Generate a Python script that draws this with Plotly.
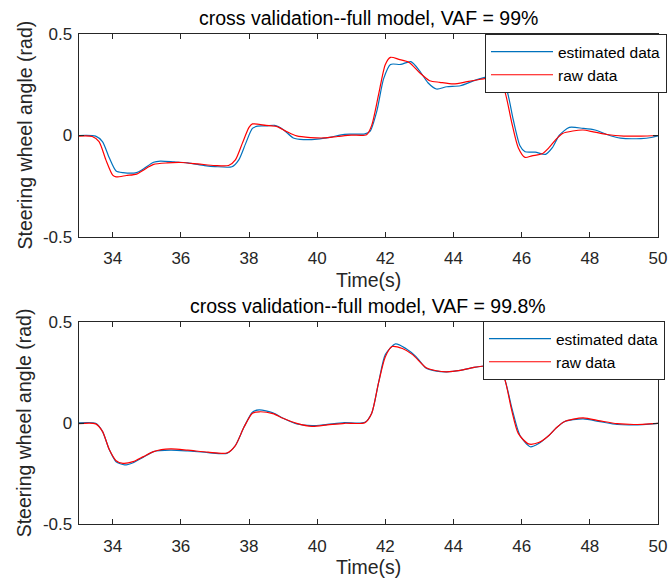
import plotly.graph_objects as go

# ---------------- data ----------------
top_est_t = [33.0, 33.5, 33.7, 33.9, 34.1, 34.3, 34.7, 34.9, 35.2, 35.4, 35.8, 36.2, 36.7, 37.0, 37.5,
             37.7, 37.9, 38.1, 38.25, 38.5, 38.75, 39.0, 39.3, 39.6, 40.0, 40.4, 40.8, 41.4, 41.55,
             41.75, 41.95, 42.15, 42.45, 42.75, 43.0, 43.25, 43.5, 43.8, 44.2, 44.6, 45.0, 45.3,
             45.55, 45.75, 45.95, 46.1, 46.4, 46.7, 46.9, 47.1, 47.4, 47.8, 48.15, 48.5, 48.9,
             49.5, 49.8, 50.0]
top_est_v = [0.0, -0.003, -0.03, -0.11, -0.175, -0.183, -0.183, -0.165, -0.132, -0.126, -0.13, -0.135,
             -0.148, -0.153, -0.154, -0.12, -0.04, 0.035, 0.046, 0.047, 0.05, 0.03, -0.012, -0.02,
             -0.018, -0.008, 0.006, 0.008, 0.02, 0.12, 0.28, 0.35, 0.35, 0.364, 0.32, 0.26, 0.229,
             0.24, 0.245, 0.27, 0.29, 0.29, 0.23, 0.08, -0.05, -0.08, -0.082, -0.093, -0.06, 0.0,
             0.04, 0.035, 0.027, 0.005, -0.013, -0.015, -0.01, -0.002]

top_raw_t = [33.0, 33.4, 33.6, 33.8, 34.0, 34.1, 34.4, 34.7, 35.0, 35.2, 35.6, 36.0, 36.5, 37.0, 37.4,
             37.6, 37.8, 38.0, 38.1, 38.5, 38.8, 39.1, 39.4, 39.8, 40.2, 40.6, 41.0, 41.45, 41.6,
             41.8, 42.0, 42.15, 42.4, 42.7, 43.0, 43.3, 43.6, 44.0, 44.4, 44.8, 45.1, 45.3, 45.5,
             45.7, 45.9, 46.1, 46.3, 46.6, 46.8, 47.0, 47.2, 47.5, 47.8, 48.1, 48.5, 49.0, 49.5, 50.0]
top_raw_v = [-0.003, -0.005, -0.03, -0.12, -0.195, -0.204, -0.197, -0.19, -0.16, -0.142, -0.135, -0.133,
             -0.14, -0.148, -0.148, -0.12, -0.04, 0.04, 0.057, 0.05, 0.045, 0.02, -0.002, -0.01,
             -0.012, -0.005, 0.002, 0.004, 0.05, 0.2, 0.35, 0.385, 0.375, 0.36, 0.31, 0.27, 0.262,
             0.254, 0.265, 0.277, 0.285, 0.28, 0.22, 0.07, -0.06, -0.108, -0.1, -0.09, -0.06, -0.02,
             0.01, 0.022, 0.027, 0.018, 0.005, -0.003, -0.003, 0.0]

bot_est_t = [33.0, 33.5, 33.7, 33.9, 34.1, 34.35, 34.6, 34.9, 35.2, 35.7, 36.2, 36.8, 37.35, 37.6,
             37.85, 38.1, 38.3, 38.7, 39.0, 39.4, 39.85, 40.3, 40.8, 41.4, 41.6, 41.8, 42.0, 42.3,
             42.6, 42.9, 43.2, 43.5, 43.8, 44.2, 44.6, 45.0, 45.3, 45.5, 45.72, 45.95, 46.25, 46.5,
             46.8, 47.0, 47.25, 47.8, 48.3, 48.8, 49.3, 50.0]
bot_est_v = [0.002, 0.0, -0.04, -0.13, -0.19, -0.206, -0.195, -0.168, -0.14, -0.133, -0.137, -0.145,
             -0.149, -0.11, -0.02, 0.055, 0.066, 0.052, 0.025, -0.003, -0.012, -0.005, 0.003, 0.005,
             0.05, 0.2, 0.34, 0.393, 0.37, 0.33, 0.272, 0.258, 0.255, 0.262, 0.277, 0.285, 0.28,
             0.22, 0.07, -0.06, -0.116, -0.1, -0.06, -0.025, 0.008, 0.022, 0.008, -0.006, -0.008, 0.0]

bot_raw_t = [33.0, 33.5, 33.7, 33.9, 34.1, 34.3, 34.6, 34.9, 35.2, 35.7, 36.2, 36.8, 37.35, 37.6,
             37.85, 38.1, 38.3, 38.7, 39.0, 39.4, 39.85, 40.3, 40.8, 41.4, 41.6, 41.8, 42.0, 42.2,
             42.5, 42.8, 43.2, 43.5, 43.8, 44.2, 44.6, 45.0, 45.3, 45.5, 45.7, 45.9, 46.2, 46.5,
             46.8, 47.0, 47.25, 47.8, 48.3, 48.8, 49.3, 50.0]
bot_raw_v = [-0.002, -0.003, -0.04, -0.13, -0.185, -0.198, -0.19, -0.165, -0.14, -0.127, -0.133, -0.143,
             -0.147, -0.11, -0.02, 0.05, 0.057, 0.048, 0.025, 0.0, -0.015, -0.008, 0.0, 0.003, 0.05,
             0.2, 0.33, 0.38, 0.37, 0.34, 0.275, 0.26, 0.255, 0.262, 0.277, 0.285, 0.28, 0.22, 0.07,
             -0.05, -0.102, -0.095, -0.06, -0.025, 0.008, 0.027, 0.012, -0.002, -0.006, 0.0]

titles = ["cross validation--full model, VAF = 99%", "cross validation--full model, VAF = 99.8%"]
series_names = ["estimated data", "raw data"]
x_range = [33, 50]
y_range = [-0.5, 0.5]
x_ticks = [34, 36, 38, 40, 42, 44, 46, 48, 50]
y_ticks = [-0.5, 0, 0.5]
y_ticktext = ["-0.5", "0", "0.5"]
x_label = "Time(s)"
y_label = "Steering wheel angle (rad)"

# ---------------- figure ----------------
W, H = 670, 585
BLUE = "#0072BD"
RED = "#FF0000"
AX = "#262626"
FONT = "Liberation Sans, Arial, Helvetica, sans-serif"

def py(px):
    return 1 - px / H

x_dom = [78.6 / W, 658 / W]
top_dom = [py(237), py(34)]
bot_dom = [py(524.3), py(322.3)]

fig = go.Figure()
line_kw = dict(shape="spline", smoothing=0.7, width=1.2)
fig.add_trace(go.Scatter(x=top_est_t, y=top_est_v, mode="lines", name=series_names[0],
                         line=dict(color=BLUE, **line_kw), xaxis="x", yaxis="y", legend="legend"))
fig.add_trace(go.Scatter(x=top_raw_t, y=top_raw_v, mode="lines", name=series_names[1],
                         line=dict(color=RED, **line_kw), xaxis="x", yaxis="y", legend="legend"))
fig.add_trace(go.Scatter(x=bot_est_t, y=bot_est_v, mode="lines", name=series_names[0],
                         line=dict(color=BLUE, **line_kw), xaxis="x2", yaxis="y2", legend="legend2"))
fig.add_trace(go.Scatter(x=bot_raw_t, y=bot_raw_v, mode="lines", name=series_names[1],
                         line=dict(color=RED, **line_kw), xaxis="x2", yaxis="y2", legend="legend2"))

xax = dict(range=x_range, tickvals=x_ticks, showgrid=False, zeroline=False, showline=True,
           linecolor=AX, linewidth=1, mirror="ticks", ticks="inside", ticklen=5, tickcolor=AX,
           tickwidth=1, tickfont=dict(family=FONT, size=17, color=AX), domain=x_dom,
           ticklabelstandoff=6, automargin=False)
yax = dict(range=y_range, tickvals=y_ticks, ticktext=y_ticktext, showgrid=False, zeroline=False,
           showline=True, linecolor=AX, linewidth=1, mirror="ticks", ticks="inside", ticklen=5,
           tickcolor=AX, tickwidth=1, tickfont=dict(family=FONT, size=17, color=AX),
           ticklabelstandoff=2, automargin=False)

legend_kw = dict(xanchor="left", yanchor="top", bgcolor="white", bordercolor=AX, borderwidth=1,
                 font=dict(family=FONT, size=15.5, color="black"), itemwidth=62,
                 tracegroupgap=0)

annotations = []
for title, (y0, y1) in zip(titles, [(237, 34), (524.3, 322.3)]):
    annotations.append(dict(text=title, x=(x_dom[0] + x_dom[1]) / 2, y=py(y1 - 3), xref="paper",
                            yref="paper", xanchor="center", yanchor="bottom", showarrow=False,
                            font=dict(family=FONT, size=19.5, color="black")))
    annotations.append(dict(text=x_label, x=(x_dom[0] + x_dom[1]) / 2, y=py(y0 + 56), xref="paper",
                            yref="paper", xanchor="center", yanchor="bottom", showarrow=False,
                            font=dict(family=FONT, size=19.5, color=AX)))
    annotations.append(dict(text=y_label, x=24 / W, y=py((y0 + y1) / 2), xref="paper",
                            yref="paper", xanchor="center", yanchor="middle", showarrow=False,
                            textangle=-90, font=dict(family=FONT, size=19.5, color=AX)))

fig.update_layout(
    width=W, height=H, margin=dict(l=0, r=0, t=0, b=0, autoexpand=False),
    paper_bgcolor="white", plot_bgcolor="white",
    xaxis=dict(xax, anchor="y"), yaxis=dict(yax, anchor="x", domain=top_dom),
    xaxis2=dict(xax, anchor="y2"), yaxis2=dict(yax, anchor="x2", domain=bot_dom),
    legend=dict(legend_kw, x=485 / W, y=py(34)),
    legend2=dict(legend_kw, x=483 / W, y=py(321)),
    annotations=annotations,
    showlegend=True,
)

fig.write_html("out.html", config={"displayModeBar": False},
               post_script="document.body.style.margin='0';document.body.style.overflow='hidden';")
